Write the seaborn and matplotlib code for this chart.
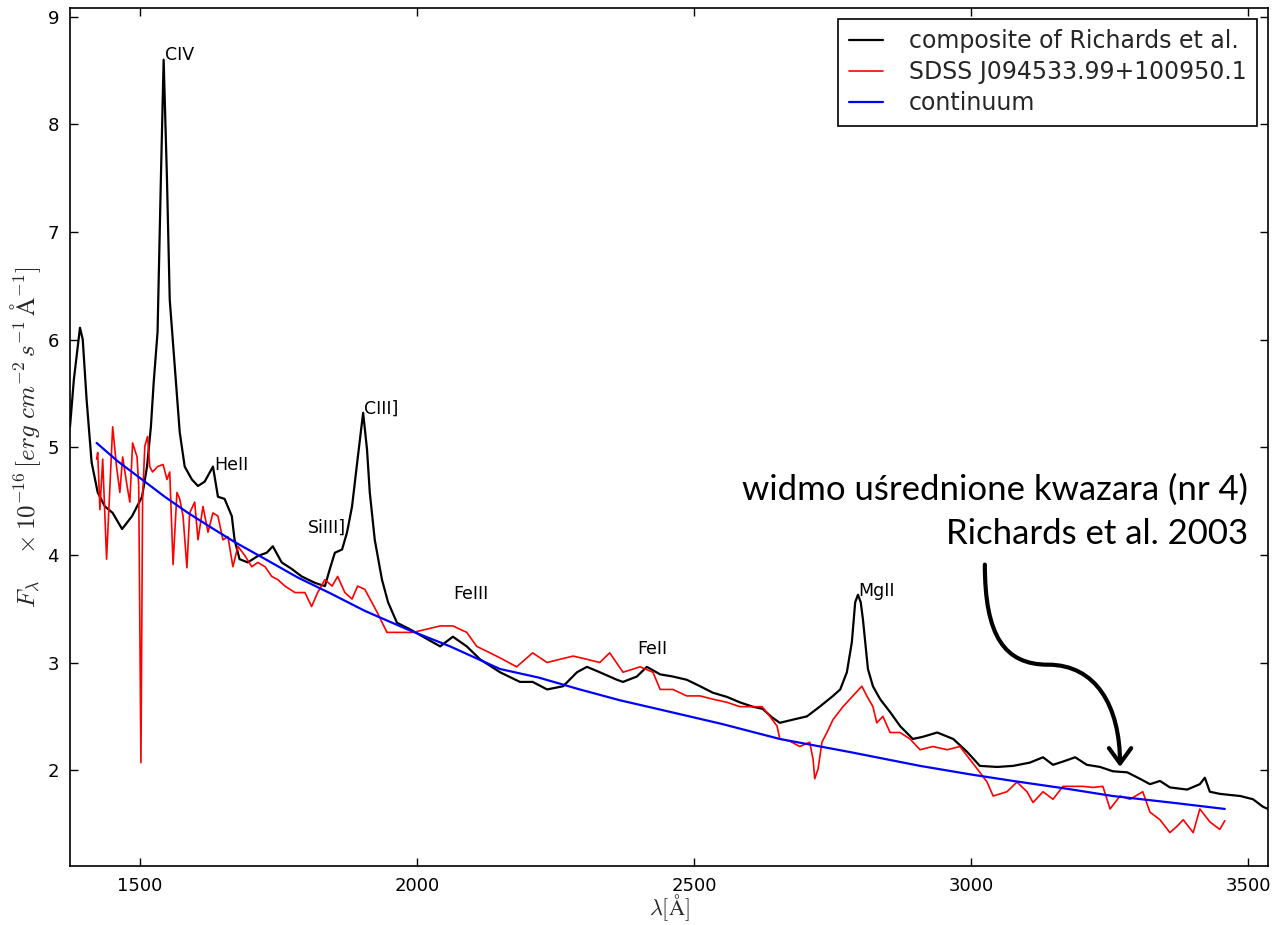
import numpy as np
import pandas as pd
import seaborn as sns
import matplotlib
matplotlib.use("Agg")
import matplotlib.pyplot as plt
from matplotlib.patches import FancyArrowPatch
from matplotlib.path import Path

# ---------------- data ----------------
comp_wave = [1374, 1381, 1392, 1397, 1404, 1413, 1424, 1437, 1451, 1468, 1486, 1504, 1513, 1520,
             1525, 1532, 1538, 1543, 1549, 1554, 1563, 1572, 1581, 1594, 1605, 1617, 1632, 1641,
             1653, 1666, 1671, 1680, 1695, 1713, 1729, 1740, 1756, 1774, 1792, 1816, 1834, 1843,
             1852, 1865, 1874, 1883, 1893, 1903, 1910, 1915, 1924, 1937, 1948, 1964, 1987, 2018,
             2042, 2065, 2090, 2114, 2150, 2186, 2209, 2235, 2264, 2289, 2307, 2330, 2361, 2372,
             2397, 2415, 2439, 2462, 2487, 2511, 2534, 2560, 2583, 2606, 2624, 2641, 2655, 2679,
             2704, 2727, 2751, 2764, 2776, 2785, 2791, 2796, 2801, 2805, 2814, 2823, 2836, 2854,
             2872, 2895, 2913, 2939, 2968, 2993, 3016, 3047, 3076, 3106, 3130, 3148, 3166, 3188,
             3209, 3233, 3256, 3282, 3305, 3323, 3341, 3359, 3390, 3413, 3422, 3431, 3449, 3486,
             3509, 3527, 3536]
comp_flux = [5.19, 5.63, 6.11, 6.00, 5.44, 4.86, 4.58, 4.45, 4.39, 4.24, 4.36, 4.54, 4.82, 5.19,
             5.60, 6.07, 7.49, 8.60, 7.49, 6.37, 5.75, 5.14, 4.82, 4.70, 4.64, 4.68, 4.82, 4.54,
             4.52, 4.36, 4.14, 3.96, 3.93, 3.99, 4.02, 4.08, 3.93, 3.87, 3.80, 3.74, 3.71, 3.87,
             4.02, 4.05, 4.21, 4.45, 4.89, 5.32, 4.98, 4.58, 4.14, 3.77, 3.56, 3.37, 3.31, 3.22,
             3.15, 3.24, 3.15, 3.03, 2.91, 2.82, 2.82, 2.75, 2.78, 2.91, 2.96, 2.91, 2.84, 2.82,
             2.87, 2.96, 2.89, 2.87, 2.84, 2.78, 2.72, 2.68, 2.63, 2.59, 2.57, 2.49, 2.44, 2.47,
             2.50, 2.59, 2.69, 2.75, 2.91, 3.19, 3.56, 3.63, 3.56, 3.40, 2.94, 2.78, 2.66, 2.54,
             2.41, 2.29, 2.31, 2.35, 2.29, 2.17, 2.04, 2.03, 2.04, 2.07, 2.12, 2.05, 2.08, 2.12,
             2.05, 2.03, 1.99, 1.98, 1.92, 1.87, 1.90, 1.84, 1.82, 1.87, 1.93, 1.80, 1.78, 1.76,
             1.73, 1.66, 1.64]

sdss_wave = [1422, 1424, 1428, 1433, 1440, 1446, 1451, 1458, 1464, 1469, 1477, 1482, 1487, 1495,
             1498, 1502, 1505, 1509, 1514, 1518, 1523, 1532, 1542, 1549, 1554, 1560, 1567, 1572,
             1578, 1585, 1590, 1599, 1605, 1614, 1623, 1632, 1641, 1650, 1659, 1668, 1677, 1690,
             1702, 1713, 1726, 1738, 1749, 1762, 1780, 1798, 1810, 1821, 1834, 1847, 1857, 1870,
             1883, 1893, 1906, 1928, 1946, 1969, 1993, 2018, 2042, 2065, 2090, 2108, 2132, 2155,
             2180, 2209, 2235, 2258, 2282, 2307, 2330, 2348, 2372, 2403, 2426, 2439, 2462, 2487,
             2511, 2534, 2560, 2583, 2606, 2623, 2637, 2650, 2655, 2673, 2691, 2709, 2715, 2718,
             2724, 2731, 2740, 2751, 2769, 2787, 2803, 2812, 2823, 2830, 2841, 2854, 2872, 2890,
             2908, 2931, 2957, 2980, 2998, 3016, 3029, 3040, 3065, 3083, 3101, 3112, 3130, 3148,
             3166, 3184, 3202, 3220, 3238, 3251, 3269, 3287, 3310, 3323, 3341, 3359, 3372, 3383,
             3401, 3413, 3431, 3449, 3458]
sdss_flux = [4.89, 4.95, 4.42, 4.89, 3.96, 4.64, 5.19, 4.82, 4.58, 4.91, 4.64, 4.49, 5.04, 4.91,
             4.64, 2.07, 4.52, 5.01, 5.10, 4.82, 4.77, 4.82, 4.84, 4.70, 4.77, 3.91, 4.58, 4.52,
             4.36, 3.88, 4.39, 4.49, 4.14, 4.45, 4.21, 4.39, 4.36, 4.14, 4.17, 3.89, 4.08, 3.99,
             3.89, 3.93, 3.89, 3.80, 3.77, 3.71, 3.65, 3.65, 3.52, 3.65, 3.77, 3.71, 3.80, 3.65,
             3.59, 3.71, 3.68, 3.47, 3.28, 3.28, 3.28, 3.31, 3.34, 3.34, 3.28, 3.15, 3.09, 3.03,
             2.96, 3.09, 3.00, 3.03, 3.06, 3.03, 3.00, 3.09, 2.91, 2.96, 2.91, 2.75, 2.75, 2.69,
             2.69, 2.66, 2.63, 2.59, 2.59, 2.59, 2.50, 2.41, 2.29, 2.27, 2.22, 2.26, 2.10, 1.92,
             2.01, 2.26, 2.35, 2.47, 2.59, 2.69, 2.78, 2.69, 2.59, 2.44, 2.50, 2.35, 2.35, 2.29,
             2.19, 2.22, 2.19, 2.22, 2.10, 1.98, 1.89, 1.76, 1.80, 1.89, 1.80, 1.70, 1.80, 1.73,
             1.85, 1.85, 1.85, 1.84, 1.85, 1.64, 1.76, 1.73, 1.80, 1.61, 1.54, 1.42, 1.48, 1.54,
             1.42, 1.64, 1.52, 1.45, 1.53]

cont_wave = [1422, 1460, 1504, 1545, 1587, 1630, 1671, 1730, 1785, 1845, 1906, 1982, 2060, 2150,
             2220, 2294, 2366, 2450, 2550, 2655, 2780, 2908, 3000, 3076, 3170, 3256, 3360, 3458]
cont_flux = [5.04, 4.87, 4.70, 4.54, 4.39, 4.25, 4.12, 3.95, 3.79, 3.64, 3.48, 3.31, 3.15, 2.94,
             2.86, 2.75, 2.65, 2.55, 2.43, 2.29, 2.17, 2.04, 1.96, 1.90, 1.83, 1.76, 1.70, 1.64]

line_names = ["CIV", "HeII", "SiIII]", "CIII]", "FeIII", "FeII", "MgII"]
line_wave = [1545, 1635, 1803, 1904, 2065, 2397, 2796]
line_flux = [8.60, 4.79, 4.21, 5.31, 3.59, 3.08, 3.62]

series_labels = ["composite of Richards et al.", "SDSS J094533.99+100950.1", "continuum"]
note_lines = ["widmo uśrednione kwazara (nr 4)", "Richards et al. 2003"]

# ---------------- plotting ----------------
sns.set_style("ticks")
plt.rcParams["font.family"] = ["DejaVu Sans"]
plt.rcParams["mathtext.fontset"] = "cm"

fig = plt.figure(figsize=(12.72, 9.25), dpi=100)
ax = fig.add_axes([70 / 1272, 1 - 866 / 925, 1198 / 1272, 858 / 925])

df_c = pd.DataFrame({"wave": comp_wave, "flux": comp_flux})
df_s = pd.DataFrame({"wave": sdss_wave, "flux": sdss_flux})
df_k = pd.DataFrame({"wave": cont_wave, "flux": cont_flux})

sns.lineplot(data=df_c, x="wave", y="flux", color="black", lw=1.6, sort=False,
             estimator=None, ax=ax, label=series_labels[0])
sns.lineplot(data=df_s, x="wave", y="flux", color="#ff0000", lw=1.2, sort=False,
             estimator=None, ax=ax, label=series_labels[1])
sns.lineplot(data=df_k, x="wave", y="flux", color="#0000ff", lw=1.6, sort=False,
             estimator=None, ax=ax, label=series_labels[2])

for name, w, f in zip(line_names, line_wave, line_flux):
    ax.text(w, f, name, fontsize=12.5, ha="left", va="baseline", color="black")

ax.set_xlim(1374, 3536)
ax.set_ylim(1.11, 9.08)
ax.set_xticks([1500, 2000, 2500, 3000, 3500])
ax.set_yticks([2, 3, 4, 5, 6, 7, 8, 9])
ax.tick_params(direction="in", length=6, width=1, labelsize=13, top=True, right=True,
               colors="black", pad=8)
for s in ax.spines.values():
    s.set_color("black")
    s.set_linewidth(1.2)

ax.set_xlabel(r"$\lambda[\mathrm{\AA}]$", fontsize=16, labelpad=-2)
ax.set_ylabel(r"$F_\lambda\quad\times10^{-16}\,[erg\ cm^{-2}\,s^{-1}\,\mathrm{\AA}^{-1}]$",
              fontsize=18, labelpad=3)

leg = ax.legend(loc="upper right", fontsize=17, frameon=True, fancybox=False,
                edgecolor="black", framealpha=1, handlelength=1.45, borderaxespad=0.45,
                labelspacing=0.3, handletextpad=1.1, borderpad=0.45)
leg.get_frame().set_linewidth(1.2)

# annotation text and curved arrow
ax.text(3500, 4.515, note_lines[0], ha="right", va="baseline", fontsize=25,
        family=["Lato", "DejaVu Sans"], color="black")
ax.text(3500, 4.10, note_lines[1], ha="right", va="baseline", fontsize=25,
        family=["Lato", "DejaVu Sans"], color="black")
verts = [(3025, 3.91), (3025, 3.25), (3060, 2.98), (3139, 2.98),
         (3225, 2.98), (3269, 2.60), (3269, 2.03)]
codes = [Path.MOVETO, Path.CURVE4, Path.CURVE4, Path.CURVE4,
         Path.CURVE4, Path.CURVE4, Path.CURVE4]
arrow = FancyArrowPatch(path=Path(verts, codes), arrowstyle="->,head_length=11,head_width=8",
                        lw=3, color="black", transform=ax.transData, mutation_scale=1)
ax.add_patch(arrow)

fig.savefig("out.png", dpi=100)
